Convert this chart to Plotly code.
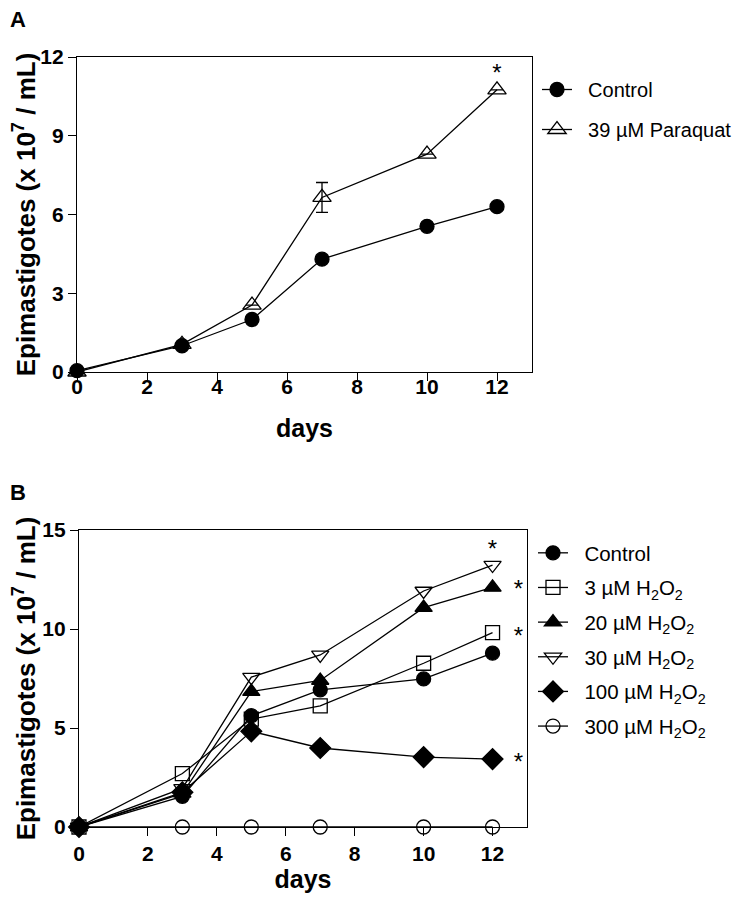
import plotly.graph_objects as go

# Panel A: paraquat
days = [0, 3, 5, 7, 10, 12]
a_control = [0.05, 1.0, 2.0, 4.3, 5.55, 6.3]
a_paraquat = [0.0, 1.05, 2.55, 6.65, 8.3, 10.75]
a_paraquat_err = [0, 0, 0, 0.57, 0, 0]
a_star_x = [12]
a_star_y = [11.3]

# Panel B: H2O2
b_control = [0.0, 1.55, 5.62, 6.93, 7.48, 8.78]
b_h2o2_3 = [0.0, 2.7, 5.45, 6.12, 8.27, 9.82]
b_h2o2_20 = [0.0, 1.7, 6.84, 7.4, 11.08, 12.1]
b_h2o2_30 = [0.0, 1.95, 7.57, 8.69, 11.92, 13.23]
b_h2o2_100 = [0.0, 1.75, 4.83, 3.99, 3.53, 3.43]
b_h2o2_300 = [0.0, 0.0, 0.0, 0.0, 0.0, 0.0]
b_star_x = [12, 12.75, 12.75, 12.75]
b_star_y = [13.95, 11.9, 9.55, 3.2]

day_ticks = [0, 2, 4, 6, 8, 10, 12]

FONT = "Liberation Sans, Arial, sans-serif"
LINE = dict(color="black", width=1.3)
PAD_A = "\u00a0\u00a0"
PAD_B = "\u00a0\u00a0"

# the page body has an 8px margin, so the figure is sized to fit inside it
OFF = 8
W, H = 740 - OFF, 898 - OFF

def fx(px):
    return (px - OFF) / W

def fy(py):
    return 1 - (py - OFF) / H

fig = go.Figure()

def add(x, y, name, symbol, xa, ya, legend, size=14, err=None):
    fig.add_trace(go.Scatter(
        x=x, y=y, name=name, mode="lines+markers", legendgroup=legend + name,
        xaxis=xa, yaxis=ya, legend=legend, cliponaxis=False,
        line=LINE,
        marker=dict(symbol=symbol, size=size, color="black",
                    line=dict(color="black", width=1.3)),
        error_y=dict(type="data", array=err, visible=err is not None,
                     color="black", thickness=1.3, width=6),
    ))

add(days, a_control, PAD_A + "Control", "circle", "x", "y", "legend")
add(days, a_paraquat, PAD_A + "39 µM Paraquat", "triangle-up-open", "x", "y", "legend",
    size=16, err=a_paraquat_err)

add(days, b_control, PAD_B + "Control", "circle", "x2", "y2", "legend2")
add(days, b_h2o2_3, PAD_B + "3 µM H<sub>2</sub>O<sub>2</sub>", "square-open", "x2", "y2", "legend2")
add(days, b_h2o2_20, PAD_B + "20 µM H<sub>2</sub>O<sub>2</sub>", "triangle-up", "x2", "y2", "legend2", size=15)
add(days, b_h2o2_30, PAD_B + "30 µM H<sub>2</sub>O<sub>2</sub>", "triangle-down-open", "x2", "y2", "legend2", size=15)
add(days, b_h2o2_100, PAD_B + "100 µM H<sub>2</sub>O<sub>2</sub>", "diamond", "x2", "y2", "legend2", size=16)
add(days, b_h2o2_300, PAD_B + "300 µM H<sub>2</sub>O<sub>2</sub>", "circle-open", "x2", "y2", "legend2")

# invisible carrier so the label-only axis of panel A gets drawn
fig.add_trace(go.Scatter(x=days, y=a_control, xaxis="x3", yaxis="y", mode="markers",
                         marker=dict(opacity=0), hoverinfo="skip", showlegend=False))

# significance stars
fig.add_trace(go.Scatter(x=a_star_x, y=a_star_y, mode="text", text=["*"] * len(a_star_x),
                         textfont=dict(size=24, family=FONT, color="black"),
                         xaxis="x", yaxis="y", showlegend=False, cliponaxis=False))
fig.add_trace(go.Scatter(x=b_star_x, y=b_star_y, mode="text", text=["*"] * len(b_star_x),
                         textfont=dict(size=24, family=FONT, color="black"),
                         xaxis="x2", yaxis="y2", showlegend=False, cliponaxis=False))

TICKFONT = dict(family=FONT, size=21, color="black", weight="bold")

def axis(**kw):
    d = dict(showline=True, linecolor="black", linewidth=1.3, mirror=True,
             ticks="outside", ticklen=8, tickwidth=1.3, tickcolor="black",
             showgrid=False, zeroline=False, automargin=False, tickfont=TICKFONT)
    d.update(kw)
    return d

ytitle = dict(text="Epimastigotes (x 10<sup>7</sup> / mL)",
              font=dict(family=FONT, size=26, color="black", weight="bold"), standoff=12)

def xtitle(standoff):
    return dict(text="days", font=dict(family=FONT, size=25, color="black", weight="bold"),
                standoff=standoff)

fig.update_layout(
    width=W, height=H,
    margin=dict(l=0, r=0, t=0, b=0),
    plot_bgcolor="white", paper_bgcolor="white",
    font=dict(family=FONT, color="black"),
    # panel A: ticks on xaxis, labels (set closer to the axis) on overlaying xaxis3
    xaxis=axis(domain=[fx(77), fx(532)], range=[0, 13], tickvals=day_ticks,
               anchor="y", showticklabels=False),
    xaxis3=dict(overlaying="x", anchor="y", side="bottom", range=[0, 13], tickvals=day_ticks,
                ticks="", showline=False, showgrid=False, zeroline=False, automargin=False,
                tickfont=TICKFONT, title=xtitle(22)),
    yaxis=axis(domain=[fy(372), fy(57)], range=[0, 12], tickvals=[0, 3, 6, 9, 12],
               anchor="x", title=ytitle),
    xaxis2=axis(domain=[fx(79), fx(527)], range=[0, 13], tickvals=day_ticks,
                anchor="y2", title=xtitle(4)),
    yaxis2=axis(domain=[fy(827), fy(530)], range=[0, 15], tickvals=[0, 5, 10, 15],
                anchor="x2", title=ytitle),
    legend=dict(x=fx(537), y=fy(70), xanchor="left", yanchor="top",
                font=dict(family=FONT, size=20, color="black"),
                bgcolor="rgba(0,0,0,0)", itemwidth=30, tracegroupgap=11),
    legend2=dict(x=fx(533), y=fy(533), xanchor="left", yanchor="top",
                 font=dict(family=FONT, size=20.5, color="black"),
                 bgcolor="rgba(0,0,0,0)", itemwidth=30, tracegroupgap=5),
    annotations=[
        dict(text="A", x=fx(8), y=fy(5), xref="paper", yref="paper",
             xanchor="left", yanchor="top", showarrow=False,
             font=dict(family=FONT, size=22, color="black", weight="bold")),
        dict(text="B", x=fx(8), y=fy(478), xref="paper", yref="paper",
             xanchor="left", yanchor="top", showarrow=False,
             font=dict(family=FONT, size=22, color="black", weight="bold")),
    ],
)

fig.write_html("out.html")
